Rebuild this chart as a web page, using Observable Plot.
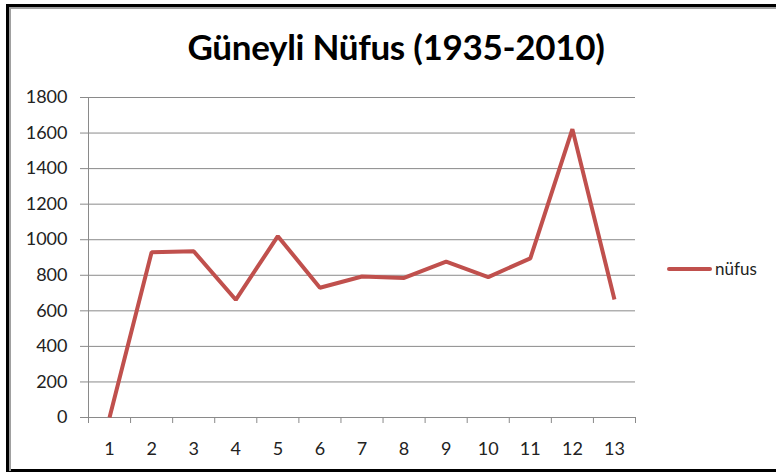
<!DOCTYPE html>
<html>
<head>
<meta charset="utf-8">
<script src="https://cdn.jsdelivr.net/npm/d3@7"></script>
<script src="https://cdn.jsdelivr.net/npm/@observablehq/plot@0.6"></script>
<style>
  html, body { margin: 0; padding: 0; background: #fff; overflow: hidden; }
  #wrap { position: relative; width: 776px; height: 473px; overflow: hidden; font-family: Lato, "Open Sans", sans-serif; }
  #outer { position: absolute; left: 6px; top: 4px; width: 900px; height: 462px; border-left: 3px solid #000; border-top: 3px solid #000; border-bottom: 3px solid #000; }
  #inner { position: absolute; left: 9px; top: 7px; width: 900px; height: 462px; border-left: 2px solid #a0a0a0; border-top: 2px solid #a0a0a0; }
  #title { position: absolute; left: 0; width: 792px; top: 25px; text-align: center; font-size: 35px; font-weight: bold; color: #000; line-height: 42px; letter-spacing: -0.3px; }
  #chart { position: absolute; left: 0; top: 80px; }
  #legend { position: absolute; left: 667px; top: 258px; display: flex; align-items: center; font-size: 17px; color: #222; }
  #legend .sw { width: 45px; height: 4px; background: #c0504d; border-radius: 2px; margin-right: 3px; }
</style>
</head>
<body>
<div id="wrap">
  <div id="outer"></div>
  <div id="inner"></div>
  <div id="title">Güneyli Nüfus (1935-2010)</div>
  <div id="chart"></div>
  <div id="legend"><span class="sw"></span><span>nüfus</span></div>
</div>
<script>
const categories = [1, 2, 3, 4, 5, 6, 7, 8, 9, 10, 11, 12, 13];
const nufus = [0, 930, 935, 662, 1020, 730, 793, 785, 877, 790, 895, 1622, 664];
const yTicks = [0, 200, 400, 600, 800, 1000, 1200, 1400, 1600, 1800];
const seriesName = "nüfus";

const data = categories.map((c, i) => ({ x: c, y: nufus[i], series: seriesName }));
const boundaries = [0.5, ...categories.map(c => c + 0.5)];

const chart = Plot.plot({
  width: 776,
  height: 393,
  marginTop: 17,
  marginBottom: 56,
  marginLeft: 88,
  marginRight: 141,
  style: { fontFamily: "Lato, 'Open Sans', sans-serif", fontSize: "18px", color: "#222", background: "transparent" },
  x: { type: "linear", domain: [0.5, 13.5] },
  y: { domain: [0, 1800] },
  marks: [
    Plot.gridY(yTicks, { stroke: "#8a8a8a", strokeOpacity: 1, strokeWidth: 1 }),
    Plot.axisY(yTicks, { tickSize: 8, stroke: "#8a8a8a", tickPadding: 13, fill: "#222", label: null, tickFormat: d => String(d) }),
    Plot.axisX(categories, { tickSize: 0, tickPadding: 25, fill: "#222", label: null, tickFormat: d => String(d) }),
    Plot.axisX(boundaries, { tickSize: 6, stroke: "#8a8a8a", tickFormat: () => "", label: null }),
    Plot.ruleX([0.5], { stroke: "#8a8a8a" }),
    Plot.ruleY([0], { stroke: "#8a8a8a" }),
    Plot.line(data, { x: "x", y: "y", stroke: "#c0504d", strokeWidth: 4, strokeLinejoin: "miter", strokeLinecap: "butt" })
  ]
});
document.getElementById("chart").appendChild(chart);
</script>
</body>
</html>
